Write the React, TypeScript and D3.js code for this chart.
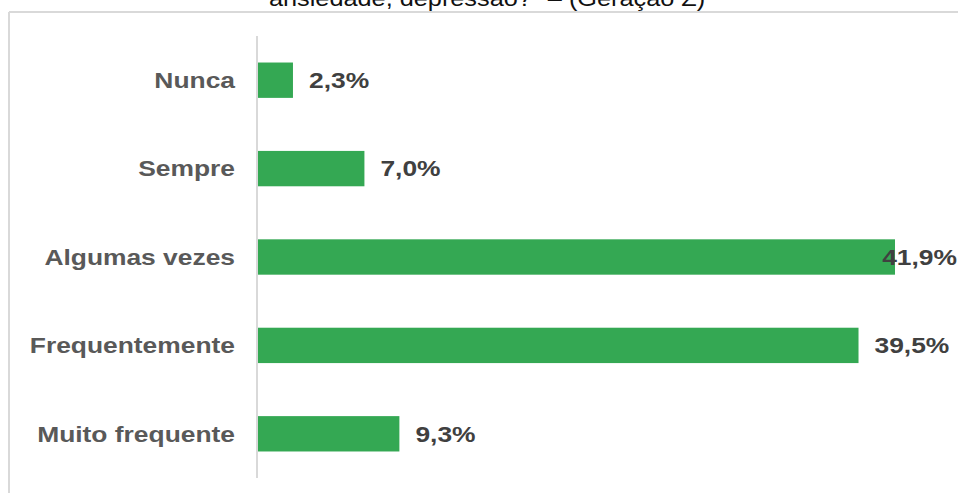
import React from "react";
import * as d3 from "d3";

const categories = ["Nunca", "Sempre", "Algumas vezes", "Frequentemente", "Muito frequente"];
const values = [2.3, 7.0, 41.9, 39.5, 9.3];
const valueLabels = ["2,3%", "7,0%", "41,9%", "39,5%", "9,3%"];
const titleLine = "ansiedade, depressão?\" – (Geração Z)";

const W = 958;
const H = 493;
const FONT = "'Liberation Sans', Arial, sans-serif";
const SX = 1.2;

export default function App() {
  const y = d3.scaleBand<string>().domain(categories).range([36, 478]).paddingInner(0.6).paddingOuter(0.3);
  const x = d3.scaleLinear().domain([0, 41.9]).range([258, 895]);

  return (
    <div style={{ position: "absolute", left: 0, top: 0 }}>
      <svg width={W} height={H} style={{ display: "block", background: "#fff" }}>
        <text
          transform={`translate(269,6) scale(1.15,1)`}
          fontFamily={FONT}
          fontSize={22}
          fill="#111"
          style={{ whiteSpace: "pre" }}
        >
          {titleLine}
        </text>
        {/* frame */}
        <line x1={9} x2={958} y1={12} y2={12} stroke="#d9d9d9" strokeWidth={2} />
        <line x1={9} x2={9} y1={12} y2={493} stroke="#d9d9d9" strokeWidth={2} />
        {/* axis */}
        <line x1={257} x2={257} y1={36} y2={478} stroke="#d9d9d9" strokeWidth={2} />
        {categories.map((c, i) => {
          const y0 = y(c)!;
          const cy = y0 + y.bandwidth() / 2;
          const xe = x(values[i]);
          const approxW = valueLabels[i].length * 22 * 0.56 * SX;
          const overflow = xe + 16 + approxW > W - 1;
          const lx = overflow ? W - 1 : xe + 16;
          return (
            <g key={c}>
              <rect x={x(0)} y={y0} width={xe - x(0)} height={y.bandwidth()} fill="#34a853" />
              <text
                transform={`translate(235,${cy}) scale(${SX},1)`}
                dy="0.35em"
                textAnchor="end"
                fontFamily={FONT}
                fontWeight="bold"
                fontSize={22}
                fill="#595959"
              >
                {c}
              </text>
              <text
                transform={`translate(${lx},${cy}) scale(${SX},1)`}
                dy="0.35em"
                textAnchor={overflow ? "end" : "start"}
                fontFamily={FONT}
                fontWeight="bold"
                fontSize={22}
                fill="#404040"
              >
                {valueLabels[i]}
              </text>
            </g>
          );
        })}
      </svg>
    </div>
  );
}
